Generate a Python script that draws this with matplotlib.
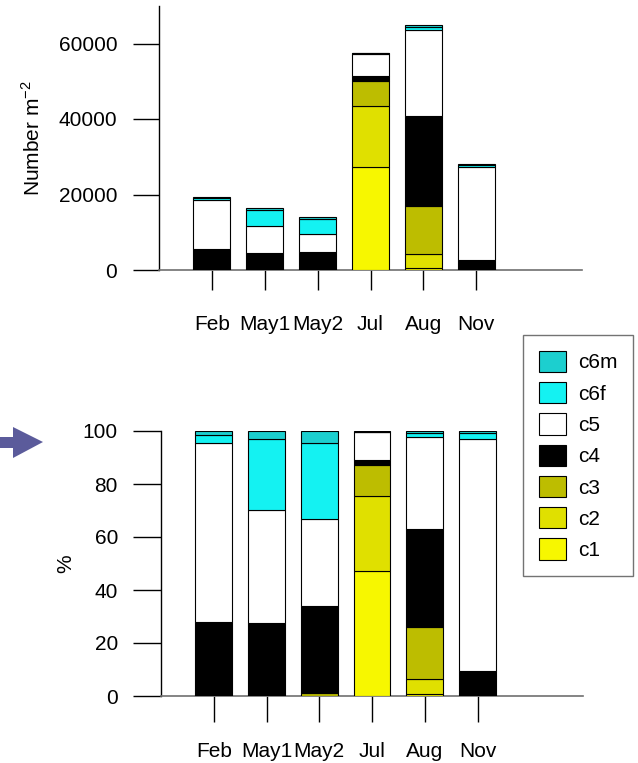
import numpy as np
import matplotlib
matplotlib.use('Agg')
import matplotlib.pyplot as plt
from matplotlib.patches import Patch, Polygon

plt.rcParams['font.family'] = ['Liberation Sans', 'DejaVu Sans']

# sampling dates
months = ['Feb', 'May1', 'May2', 'Jul', 'Aug', 'Nov']

# total abundance (Number m-2) per date
totals = [19430, 16420, 14130, 57570, 64900, 28080]

# share of each stage (%)
stages = ['c1', 'c2', 'c3', 'c4', 'c5', 'c6f', 'c6m']
pct_c1 = [0.0, 0.0, 0.0, 47.2, 0.8, 0.0]
pct_c2 = [0.0, 0.0, 0.0, 28.2, 5.7, 0.0]
pct_c3 = [0.0, 0.0, 1.2, 11.6, 19.6, 0.0]
pct_c4 = [28.1, 27.5, 32.9, 2.2, 36.9, 9.3]
pct_c5 = [67.2, 42.8, 32.7, 10.3, 34.9, 87.7]
pct_c6f = [3.2, 26.8, 28.7, 0.3, 1.3, 2.3]
pct_c6m = [1.5, 2.9, 4.5, 0.2, 0.8, 0.7]

colors = {'c1': '#F7F700', 'c2': '#E0E000', 'c3': '#BDBD00', 'c4': '#000000',
          'c5': '#FFFFFF', 'c6f': '#14F2F2', 'c6m': '#1CCFCF'}

pct = np.array([pct_c1, pct_c2, pct_c3, pct_c4, pct_c5, pct_c6f, pct_c6m])
counts = pct / 100.0 * np.array(totals)
pct_norm = counts / counts.sum(axis=0) * 100.0

FS = 15
W, H = 638, 763
fig = plt.figure(figsize=(W / 100, H / 100), dpi=100)
ax1 = fig.add_axes([159 / W, 1 - 270 / H, 423 / W, 264.25 / H])
ax2 = fig.add_axes([161 / W, 1 - 696 / H, 422 / W, 265 / H])

x = np.arange(1, len(months) + 1)


def stacked(ax, data):
    bottom = np.zeros(len(months))
    for i, s in enumerate(stages):
        ax.bar(x, data[i], 0.7, bottom=bottom, color=colors[s],
               edgecolor='black', linewidth=0.8, zorder=3)
        bottom += data[i]
    ax.set_xlim(0, 8)
    ax.set_xticks(x)
    ax.set_xticklabels(months, fontsize=FS)
    for sp in ['top', 'right']:
        ax.spines[sp].set_visible(False)
    ax.spines['left'].set_linewidth(1.0)
    ax.spines['bottom'].set_linewidth(1.2)
    ax.spines['bottom'].set_color('#707070')
    ax.tick_params(axis='y', labelsize=FS, length=19, width=1.0, pad=11)


stacked(ax1, counts)
ax1.set_ylim(0, 70000)
ax1.set_yticks([0, 20000, 40000, 60000])
ax1.tick_params(axis='x', length=14.5, width=1.0, pad=18)
ax1.set_ylabel('Number m$^{\\mathregular{-2}}$', fontsize=FS)
ax1.yaxis.set_label_coords(-0.272, 0.5)

stacked(ax2, pct_norm)
ax2.set_ylim(0, 100)
ax2.set_yticks([0, 20, 40, 60, 80, 100])
ax2.tick_params(axis='x', length=19, width=1.0, pad=14)
ax2.tick_params(axis='y', length=20)
ax2.set_ylabel('%', fontsize=FS)
ax2.yaxis.set_label_coords(-0.204, 0.5)

# legend, top entry first
handles = [Patch(facecolor=colors[s], edgecolor='black', linewidth=0.8)
           for s in stages[::-1]]
leg = fig.legend(handles, stages[::-1], loc='upper left',
                 bbox_to_anchor=(523 / W, 1 - 335 / H), fontsize=FS,
                 frameon=True, fancybox=False, handlelength=1.3,
                 handleheight=1.2, labelspacing=0.46, handletextpad=0.58,
                 borderpad=0.75, borderaxespad=0)
leg.get_frame().set_edgecolor('#505050')
leg.get_frame().set_linewidth(1.0)

# arrow pointing at the lower panel
pts = [(0, 437), (13, 437), (13, 427), (43, 442), (13, 458), (13, 448), (0, 448)]
arrow = Polygon([(px / W, 1 - py / H) for px, py in pts], closed=True,
                transform=fig.transFigure, facecolor='#5B5B9B', edgecolor='none')
fig.add_artist(arrow)

fig.savefig('out.png', dpi=100)
